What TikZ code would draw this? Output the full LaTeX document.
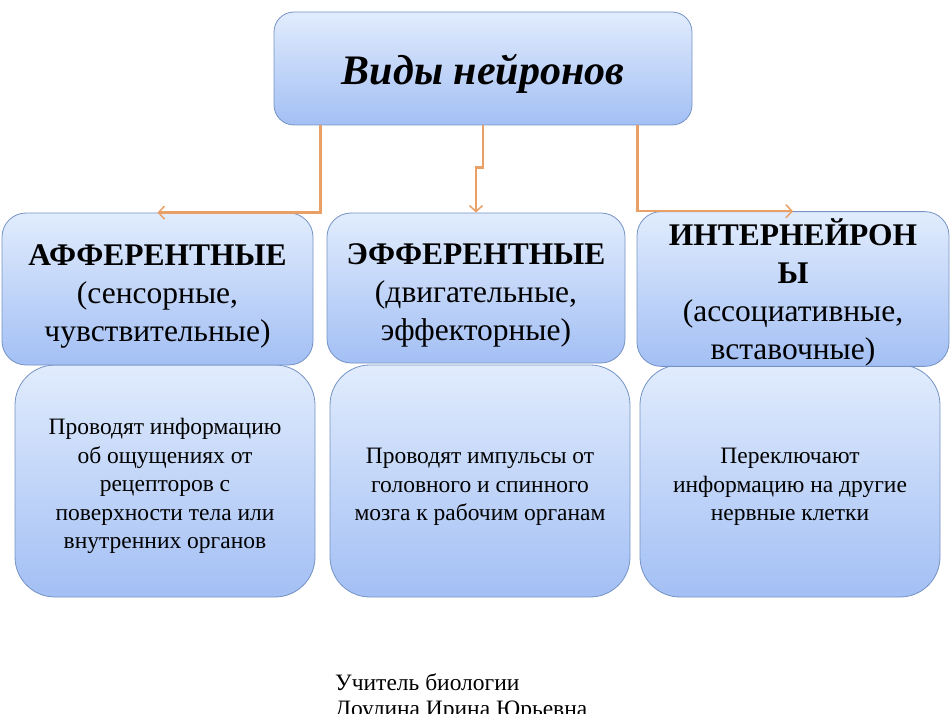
\documentclass[tikz,border=0pt]{standalone}
\usepackage{fontspec}
\setmainfont{Liberation Serif}
\usetikzlibrary{arrows.meta,calc}
\definecolor{boxtop}{HTML}{E1ECFD}
\definecolor{boxbot}{HTML}{A3BFF4}
\definecolor{boxline}{HTML}{7593C4}
\definecolor{linkorange}{HTML}{E9A066}
\def\topgap#1{\rule{0pt}{#1}}
\tikzset{
  kindbox/.style={draw=boxline, line width=0.8pt, top color=boxtop, bottom color=boxbot,
    rounded corners=18pt, align=center, inner sep=0pt},
  headbox/.style={kindbox, rounded corners=24pt, minimum height=152pt,
    font=\fontsize{31.5}{38}\selectfont},
  notebox/.style={kindbox, rounded corners=40pt, minimum width=300pt, minimum height=232pt,
    font=\fontsize{23.5}{28.5}\selectfont},
  link/.style={draw=linkorange, line width=2.5pt,
    -{Straight Barb[length=6pt,width=13pt,line width=1.5pt]}},
}

\begin{document}
\begin{tikzpicture}[x=1pt,y=-1pt]
  %%%%% START %%%%%
  \useasboundingbox (0,0) rectangle (951,714);

  \node[kindbox, rounded corners=20pt, minimum width=418pt, minimum height=113pt, text depth=0pt,
    font=\fontsize{42}{46}\selectfont\bfseries\itshape] (title) at (483,68.5) {\topgap{32pt}Виды нейронов};

  % lower boxes
  \node[notebox] (affnote) at (165,481) {\topgap{27pt}Проводят информацию\\об ощущениях от\\рецепторов с\\поверхности тела или\\внутренних органов};
  \node[notebox] (effnote) at (480,481) {\topgap{27pt}Проводят импульсы от\\головного и спинного\\мозга к рабочим органам};
  \node[notebox] (intnote) at (790,481) {\topgap{27pt}Переключают\\информацию на другие\\нервные клетки};

  % kinds
  \node[headbox, minimum width=311pt] (aff) at (157.5,289) {\topgap{36pt}\textbf{АФФЕРЕНТНЫЕ}\\(сенсорные,\\чувствительные)};
  \node[headbox, minimum width=298pt, minimum height=150pt] (eff) at (476,288) {\topgap{36pt}\textbf{ЭФФЕРЕНТНЫЕ}\\(двигательные,\\эффекторные)};
  \node[headbox, minimum width=312pt] (inter) at (793,289) {\topgap{34pt}\textbf{ИНТЕРНЕЙРОН}\\\textbf{Ы}\\(ассоциативные,\\вставочные)};

  \draw[link] ($(title.south west)+(47,0)$) |- (aff.north);
  \draw[link] (title.south) -- ++(0,42) -| (eff.north);
  \draw[link] ($(title.south east)+(-55,0)$) |- (inter.north);

  \node[anchor=north west, inner sep=0pt, align=left, font=\fontsize{23.5}{26}\selectfont] (author) at (335,673) {Учитель биологии\\Доулина Ирина Юрьевна};
  %%%%% END %%%%%
\end{tikzpicture}
\end{document}
